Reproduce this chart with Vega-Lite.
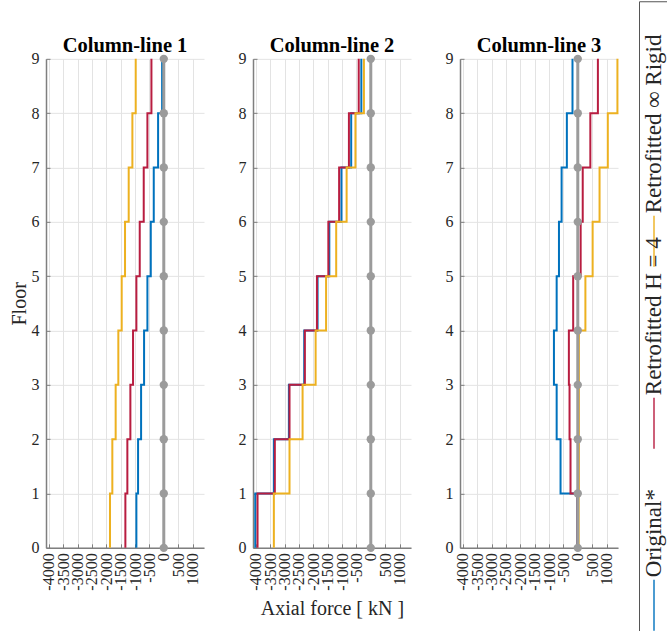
{
  "$schema": "https://vega.github.io/schema/vega-lite/v6.json",
  "background": "white",
  "padding": {"left": 9, "top": 0, "right": 0, "bottom": 0},
  "config": {
    "font": "Liberation Serif",
    "view": {"stroke": null},
    "axis": {
      "labelFont": "Liberation Serif",
      "labelFontSize": 16,
      "labelColor": "#262626",
      "titleFont": "Liberation Serif",
      "titleFontSize": 20,
      "titleFontWeight": "normal",
      "titleColor": "#262626",
      "domainColor": "#7f7f7f",
      "domainWidth": 1.5,
      "tickColor": "#7f7f7f",
      "tickSize": -4,
      "gridColor": "#e3e3e3",
      "gridWidth": 1
    },
    "title": {"font": "Liberation Serif", "fontSize": 20.5, "fontWeight": "bold", "color": "#000000", "offset": -6}
  },
  "datasets": {
    "forces": [
      {"col": 1, "series": "Original*", "from": 0, "to": 1, "force": -954},
      {"col": 1, "series": "Original*", "from": 1, "to": 2, "force": -895},
      {"col": 1, "series": "Original*", "from": 2, "to": 3, "force": -790},
      {"col": 1, "series": "Original*", "from": 3, "to": 4, "force": -686},
      {"col": 1, "series": "Original*", "from": 4, "to": 5, "force": -570},
      {"col": 1, "series": "Original*", "from": 5, "to": 6, "force": -453},
      {"col": 1, "series": "Original*", "from": 6, "to": 7, "force": -349},
      {"col": 1, "series": "Original*", "from": 7, "to": 8, "force": -198},
      {"col": 1, "series": "Original*", "from": 8, "to": 9, "force": -58},
      {"col": 1, "series": "Retrofitted H = 4", "from": 0, "to": 1, "force": -1337},
      {"col": 1, "series": "Retrofitted H = 4", "from": 1, "to": 2, "force": -1268},
      {"col": 1, "series": "Retrofitted H = 4", "from": 2, "to": 3, "force": -1163},
      {"col": 1, "series": "Retrofitted H = 4", "from": 3, "to": 4, "force": -1070},
      {"col": 1, "series": "Retrofitted H = 4", "from": 4, "to": 5, "force": -954},
      {"col": 1, "series": "Retrofitted H = 4", "from": 5, "to": 6, "force": -837},
      {"col": 1, "series": "Retrofitted H = 4", "from": 6, "to": 7, "force": -698},
      {"col": 1, "series": "Retrofitted H = 4", "from": 7, "to": 8, "force": -570},
      {"col": 1, "series": "Retrofitted H = 4", "from": 8, "to": 9, "force": -430},
      {"col": 1, "series": "Retrofitted ∞ Rigid", "from": 0, "to": 1, "force": -1872},
      {"col": 1, "series": "Retrofitted ∞ Rigid", "from": 1, "to": 2, "force": -1791},
      {"col": 1, "series": "Retrofitted ∞ Rigid", "from": 2, "to": 3, "force": -1675},
      {"col": 1, "series": "Retrofitted ∞ Rigid", "from": 3, "to": 4, "force": -1582},
      {"col": 1, "series": "Retrofitted ∞ Rigid", "from": 4, "to": 5, "force": -1465},
      {"col": 1, "series": "Retrofitted ∞ Rigid", "from": 5, "to": 6, "force": -1349},
      {"col": 1, "series": "Retrofitted ∞ Rigid", "from": 6, "to": 7, "force": -1221},
      {"col": 1, "series": "Retrofitted ∞ Rigid", "from": 7, "to": 8, "force": -1093},
      {"col": 1, "series": "Retrofitted ∞ Rigid", "from": 8, "to": 9, "force": -977},
      {"col": 2, "series": "Original*", "from": 0, "to": 1, "force": -4021},
      {"col": 2, "series": "Original*", "from": 1, "to": 2, "force": -3374},
      {"col": 2, "series": "Original*", "from": 2, "to": 3, "force": -2851},
      {"col": 2, "series": "Original*", "from": 3, "to": 4, "force": -2317},
      {"col": 2, "series": "Original*", "from": 4, "to": 5, "force": -1852},
      {"col": 2, "series": "Original*", "from": 5, "to": 6, "force": -1443},
      {"col": 2, "series": "Original*", "from": 6, "to": 7, "force": -1022},
      {"col": 2, "series": "Original*", "from": 7, "to": 8, "force": -682},
      {"col": 2, "series": "Original*", "from": 8, "to": 9, "force": -329},
      {"col": 2, "series": "Retrofitted H = 4", "from": 0, "to": 1, "force": -3942},
      {"col": 2, "series": "Retrofitted H = 4", "from": 1, "to": 2, "force": -3340},
      {"col": 2, "series": "Retrofitted H = 4", "from": 2, "to": 3, "force": -2829},
      {"col": 2, "series": "Retrofitted H = 4", "from": 3, "to": 4, "force": -2295},
      {"col": 2, "series": "Retrofitted H = 4", "from": 4, "to": 5, "force": -1874},
      {"col": 2, "series": "Retrofitted H = 4", "from": 5, "to": 6, "force": -1477},
      {"col": 2, "series": "Retrofitted H = 4", "from": 6, "to": 7, "force": -1102},
      {"col": 2, "series": "Retrofitted H = 4", "from": 7, "to": 8, "force": -761},
      {"col": 2, "series": "Retrofitted H = 4", "from": 8, "to": 9, "force": -420},
      {"col": 2, "series": "Retrofitted ∞ Rigid", "from": 0, "to": 1, "force": -3374},
      {"col": 2, "series": "Retrofitted ∞ Rigid", "from": 1, "to": 2, "force": -2829},
      {"col": 2, "series": "Retrofitted ∞ Rigid", "from": 2, "to": 3, "force": -2374},
      {"col": 2, "series": "Retrofitted ∞ Rigid", "from": 3, "to": 4, "force": -1920},
      {"col": 2, "series": "Retrofitted ∞ Rigid", "from": 4, "to": 5, "force": -1556},
      {"col": 2, "series": "Retrofitted ∞ Rigid", "from": 5, "to": 6, "force": -1204},
      {"col": 2, "series": "Retrofitted ∞ Rigid", "from": 6, "to": 7, "force": -841},
      {"col": 2, "series": "Retrofitted ∞ Rigid", "from": 7, "to": 8, "force": -534},
      {"col": 2, "series": "Retrofitted ∞ Rigid", "from": 8, "to": 9, "force": -239},
      {"col": 3, "series": "Original*", "from": 0, "to": 1, "force": -20},
      {"col": 3, "series": "Original*", "from": 1, "to": 2, "force": -600},
      {"col": 3, "series": "Original*", "from": 2, "to": 3, "force": -735},
      {"col": 3, "series": "Original*", "from": 3, "to": 4, "force": -830},
      {"col": 3, "series": "Original*", "from": 4, "to": 5, "force": -735},
      {"col": 3, "series": "Original*", "from": 5, "to": 6, "force": -655},
      {"col": 3, "series": "Original*", "from": 6, "to": 7, "force": -563},
      {"col": 3, "series": "Original*", "from": 7, "to": 8, "force": -380},
      {"col": 3, "series": "Original*", "from": 8, "to": 9, "force": -184},
      {"col": 3, "series": "Retrofitted H = 4", "from": 0, "to": 1, "force": -10},
      {"col": 3, "series": "Retrofitted H = 4", "from": 1, "to": 2, "force": -253},
      {"col": 3, "series": "Retrofitted H = 4", "from": 2, "to": 3, "force": -287},
      {"col": 3, "series": "Retrofitted H = 4", "from": 3, "to": 4, "force": -310},
      {"col": 3, "series": "Retrofitted H = 4", "from": 4, "to": 5, "force": -160},
      {"col": 3, "series": "Retrofitted H = 4", "from": 5, "to": 6, "force": 100},
      {"col": 3, "series": "Retrofitted H = 4", "from": 6, "to": 7, "force": 172},
      {"col": 3, "series": "Retrofitted H = 4", "from": 7, "to": 8, "force": 437},
      {"col": 3, "series": "Retrofitted H = 4", "from": 8, "to": 9, "force": 700},
      {"col": 3, "series": "Retrofitted ∞ Rigid", "from": 0, "to": 1, "force": 30},
      {"col": 3, "series": "Retrofitted ∞ Rigid", "from": 1, "to": 2, "force": 40},
      {"col": 3, "series": "Retrofitted ∞ Rigid", "from": 2, "to": 3, "force": 40},
      {"col": 3, "series": "Retrofitted ∞ Rigid", "from": 3, "to": 4, "force": 40},
      {"col": 3, "series": "Retrofitted ∞ Rigid", "from": 4, "to": 5, "force": 265},
      {"col": 3, "series": "Retrofitted ∞ Rigid", "from": 5, "to": 6, "force": 517},
      {"col": 3, "series": "Retrofitted ∞ Rigid", "from": 6, "to": 7, "force": 758},
      {"col": 3, "series": "Retrofitted ∞ Rigid", "from": 7, "to": 8, "force": 1045},
      {"col": 3, "series": "Retrofitted ∞ Rigid", "from": 8, "to": 9, "force": 1380}
    ],
    "ref": [
      {"floor": 0, "force": 0}, {"floor": 1, "force": 0}, {"floor": 2, "force": 0},
      {"floor": 3, "force": 0}, {"floor": 4, "force": 0}, {"floor": 5, "force": 0},
      {"floor": 6, "force": 0}, {"floor": 7, "force": 0}, {"floor": 8, "force": 0},
      {"floor": 9, "force": 0}
    ],
    "legend": [
      {"series": "Original*"},
      {"series": "Retrofitted H = 4"},
      {"series": "Retrofitted ∞ Rigid"}
    ]
  },
  "hconcat": [
    {
      "spacing": 34,
      "hconcat": [
        {
          "width": 158, "height": 489,
          "title": "Column-line 1",
          "encoding": {
            "x": {"field": "force", "type": "quantitative", "scale": {"domain": [-4100, 1400], "nice": false, "zero": false},
                  "axis": {"title": null, "values": [-4000, -3500, -3000, -2500, -2000, -1500, -1000, -500, 0, 500, 1000], "labelExpr": "'' + datum.value", "labelAngle": 270, "labelOverlap": false, "labelFlush": false, "labelPadding": 9, "grid": true}},
            "y": {"field": "floor", "type": "quantitative", "scale": {"domain": [0, 9], "nice": false},
                  "axis": {"title": "Floor", "values": [0, 1, 2, 3, 4, 5, 6, 7, 8, 9], "labelExpr": "'' + datum.value", "labelOverlap": false, "labelPadding": 11, "titlePadding": 2, "grid": true, "labelFlush": false}}
          },
          "layer": [
            {
              "data": {"name": "forces"},
              "transform": [{"filter": "datum.col === 1"}, {"fold": ["from", "to"], "as": ["end", "floor"]}],
              "mark": {"type": "line", "strokeWidth": 2},
              "encoding": {
                "color": {"field": "series", "type": "nominal", "legend": null,
                          "scale": {"domain": ["Original*", "Retrofitted H = 4", "Retrofitted ∞ Rigid"], "range": ["#0072BD", "#B81D40", "#EDB120"]}},
                "order": {"field": "floor", "type": "quantitative"}
              }
            },
            {
              "data": {"name": "ref"},
              "mark": {"type": "line", "color": "#9b9b9b", "strokeWidth": 3, "point": {"filled": true, "size": 70, "color": "#9b9b9b"}}
            }
          ]
        },
        {
          "width": 158, "height": 489,
          "title": "Column-line 2",
          "encoding": {
            "x": {"field": "force", "type": "quantitative", "scale": {"domain": [-4100, 1400], "nice": false, "zero": false},
                  "axis": {"title": "Axial force [ kN ]", "titlePadding": 8, "values": [-4000, -3500, -3000, -2500, -2000, -1500, -1000, -500, 0, 500, 1000], "labelExpr": "'' + datum.value", "labelAngle": 270, "labelOverlap": false, "labelFlush": false, "labelPadding": 9, "grid": true}},
            "y": {"field": "floor", "type": "quantitative", "scale": {"domain": [0, 9], "nice": false},
                  "axis": {"title": null, "values": [0, 1, 2, 3, 4, 5, 6, 7, 8, 9], "labelExpr": "'' + datum.value", "labelOverlap": false, "labelPadding": 11, "grid": true, "labelFlush": false}}
          },
          "layer": [
            {
              "data": {"name": "forces"},
              "transform": [{"filter": "datum.col === 2"}, {"fold": ["from", "to"], "as": ["end", "floor"]}],
              "mark": {"type": "line", "strokeWidth": 2},
              "encoding": {
                "color": {"field": "series", "type": "nominal", "legend": null,
                          "scale": {"domain": ["Original*", "Retrofitted H = 4", "Retrofitted ∞ Rigid"], "range": ["#0072BD", "#B81D40", "#EDB120"]}},
                "order": {"field": "floor", "type": "quantitative"}
              }
            },
            {
              "data": {"name": "ref"},
              "mark": {"type": "line", "color": "#9b9b9b", "strokeWidth": 3, "point": {"filled": true, "size": 70, "color": "#9b9b9b"}}
            }
          ]
        },
        {
          "width": 158, "height": 489,
          "title": "Column-line 3",
          "encoding": {
            "x": {"field": "force", "type": "quantitative", "scale": {"domain": [-4100, 1400], "nice": false, "zero": false},
                  "axis": {"title": null, "values": [-4000, -3500, -3000, -2500, -2000, -1500, -1000, -500, 0, 500, 1000], "labelExpr": "'' + datum.value", "labelAngle": 270, "labelOverlap": false, "labelFlush": false, "labelPadding": 9, "grid": true}},
            "y": {"field": "floor", "type": "quantitative", "scale": {"domain": [0, 9], "nice": false},
                  "axis": {"title": null, "values": [0, 1, 2, 3, 4, 5, 6, 7, 8, 9], "labelExpr": "'' + datum.value", "labelOverlap": false, "labelPadding": 11, "grid": true, "labelFlush": false}}
          },
          "layer": [
            {
              "data": {"name": "forces"},
              "transform": [{"filter": "datum.col === 3"}, {"fold": ["from", "to"], "as": ["end", "floor"]}],
              "mark": {"type": "line", "strokeWidth": 2},
              "encoding": {
                "color": {"field": "series", "type": "nominal", "legend": null,
                          "scale": {"domain": ["Original*", "Retrofitted H = 4", "Retrofitted ∞ Rigid"], "range": ["#0072BD", "#B81D40", "#EDB120"]}},
                "order": {"field": "floor", "type": "quantitative"}
              }
            },
            {
              "data": {"name": "ref"},
              "mark": {"type": "line", "color": "#9b9b9b", "strokeWidth": 3, "point": {"filled": true, "size": 70, "color": "#9b9b9b"}}
            }
          ]
        }
      ]
    },
    {
      "width": 30, "height": 674,
      "view": {"stroke": "#555555", "strokeWidth": 1},
      "data": {"name": "legend"},
      "encoding": {
        "y": {"field": "series", "type": "nominal", "axis": null,
              "scale": {"type": "point", "domain": ["Retrofitted ∞ Rigid", "Retrofitted H = 4", "Original*"], "padding": 0.852, "align": 0.774}}
      },
      "layer": [
        {
          "mark": {"type": "tick", "orient": "vertical", "size": 51, "thickness": 2},
          "encoding": {
            "color": {"field": "series", "type": "nominal", "legend": null,
                      "scale": {"domain": ["Original*", "Retrofitted H = 4", "Retrofitted ∞ Rigid"], "range": ["#0072BD", "#B81D40", "#EDB120"]}}
          }
        },
        {
          "mark": {"type": "text", "angle": 270, "align": "left", "baseline": "middle", "dx": 28, "font": "Liberation Serif", "fontSize": 23, "color": "#262626"},
          "encoding": {"text": {"field": "series"}}
        }
      ]
    }
  ],
  "spacing": 16,
  "center": true
}
